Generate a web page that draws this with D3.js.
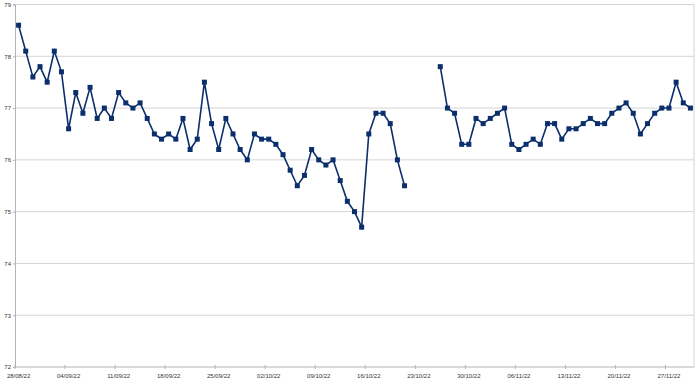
<!DOCTYPE html>
<html><head><meta charset="utf-8">
<script src="https://cdn.jsdelivr.net/npm/d3@7"></script>
<style>body{margin:0;background:#fff}svg{display:block}text{font-family:"Liberation Sans",Arial,sans-serif}</style>
</head><body><div id="chart"></div>
<script>
const startDate = "2022-08-28";
const dayCount = 95;
const tickLabels = ["28/08/22","04/09/22","11/09/22","18/09/22","25/09/22","02/10/22","09/10/22","16/10/22","23/10/22","30/10/22","06/11/22","13/11/22","20/11/22","27/11/22"];
const yTicks = [72,73,74,75,76,77,78,79];
const values = [
 78.6,78.1,77.6,77.8,77.5,78.1,77.7,76.6,77.3,76.9,
 77.4,76.8,77.0,76.8,77.3,77.1,77.0,77.1,76.8,76.5,
 76.4,76.5,76.4,76.8,76.2,76.4,77.5,76.7,76.2,76.8,
 76.5,76.2,76.0,76.5,76.4,76.4,76.3,76.1,75.8,75.5,
 75.7,76.2,76.0,75.9,76.0,75.6,75.2,75.0,74.7,76.5,
 76.9,76.9,76.7,76.0,75.5,null,null,null,null,77.8,
 77.0,76.9,76.3,76.3,76.8,76.7,76.8,76.9,77.0,76.3,
 76.2,76.3,76.4,76.3,76.7,76.7,76.4,76.6,76.6,76.7,
 76.8,76.7,76.7,76.9,77.0,77.1,76.9,76.5,76.7,76.9,
 77.0,77.0,77.5,77.1,77.0
];

const W = 700, H = 381;
const L = 15, R = 694, T = 4.5, B = 367;
const svg = d3.select("#chart").append("svg").attr("width", W).attr("height", H);

const idx = d3.range(dayCount);
const x = d3.scaleBand().domain(idx).range([L, R]).padding(0);
const bw = x.bandwidth();
const cx = i => x(i) + bw / 2;
const y = d3.scaleLinear().domain([72, 79]).range([B, T]);

// gridlines
svg.append("g").selectAll("line").data(yTicks.filter(v => v !== 72)).join("line")
  .attr("x1", L).attr("x2", R).attr("y1", d => y(d)).attr("y2", d => y(d))
  .attr("stroke", "#d4d4d4").attr("stroke-width", 1);

// right border
svg.append("line").attr("x1", R).attr("x2", R).attr("y1", T).attr("y2", B)
  .attr("stroke", "#d4d4d4");

// y axis
const yAxis = d3.axisLeft(y).tickValues(yTicks).tickSize(2).tickFormat(d3.format("d"));
const gy = svg.append("g").attr("transform", `translate(${L},0)`).call(yAxis);
gy.select(".domain").attr("stroke", "#b3b3b3");
gy.selectAll(".tick line").attr("stroke", "#b3b3b3");
gy.selectAll("text").attr("font-size", 6).attr("fill", "#333").attr("x", -4)
  .attr("font-family", "Liberation Sans, Arial, sans-serif");

// x axis
const tickIdx = tickLabels.map((_, k) => k * 7);
svg.append("line").attr("x1", L).attr("x2", R).attr("y1", B).attr("y2", B).attr("stroke", "#b3b3b3");
svg.append("g").selectAll("line").data(tickIdx).join("line")
  .attr("x1", d => x(d)).attr("x2", d => x(d)).attr("y1", B - 2).attr("y2", B + 2)
  .attr("stroke", "#b3b3b3");
svg.append("g").selectAll("text").data(tickIdx).join("text")
  .attr("x", d => cx(d)).attr("y", 378).attr("text-anchor", "middle")
  .attr("font-size", 6).attr("fill", "#333")
  .text((d, k) => tickLabels[k]);

// line
const color = "#0b2e6c";
const line = d3.line().defined(d => d != null).x((d, i) => cx(i)).y(d => y(d));
svg.append("path").datum(values).attr("d", line)
  .attr("fill", "none").attr("stroke", color).attr("stroke-width", 1.6);

// markers
const ms = 5;
svg.append("g").selectAll("rect").data(idx.filter(i => values[i] != null)).join("rect")
  .attr("x", i => cx(i) - ms / 2).attr("y", i => y(values[i]) - ms / 2)
  .attr("width", ms).attr("height", ms).attr("fill", color);
</script></body></html>
